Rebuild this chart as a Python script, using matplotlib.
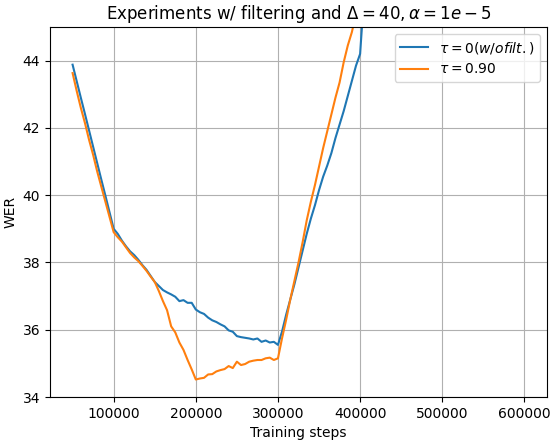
import matplotlib
matplotlib.use("Agg")
import matplotlib.pyplot as plt

steps_k = list(range(50, 415, 5))
steps = [s * 1000 for s in steps_k]

wer_nofilt = [
    43.88, 43.39, 42.90, 42.42, 41.93, 41.44, 40.95, 40.46, 39.98, 39.49,  # 50-95
    39.00, 38.85, 38.65, 38.48, 38.33, 38.22, 38.08, 37.92, 37.78, 37.60,  # 100-145
    37.42, 37.30, 37.18, 37.11, 37.05, 36.98, 36.85, 36.88, 36.80, 36.80,  # 150-195
    36.60, 36.52, 36.47, 36.36, 36.28, 36.23, 36.16, 36.10, 35.98, 35.94,  # 200-245
    35.81, 35.78, 35.76, 35.74, 35.71, 35.74, 35.64, 35.68, 35.62, 35.64,  # 250-295
    35.55, 35.95, 36.45, 36.90, 37.35, 37.85, 38.35, 38.85, 39.30, 39.70,  # 300-345
    40.15, 40.55, 40.88, 41.25, 41.70, 42.10, 42.50, 42.95, 43.40, 43.85,  # 350-395
    44.20, 46.00, 47.50,                                                   # 400-410
]

wer_tau090 = [
    43.63, 43.10, 42.60, 42.15, 41.65, 41.20, 40.70, 40.25, 39.80, 39.35,  # 50-95
    38.90, 38.75, 38.62, 38.45, 38.28, 38.15, 38.04, 37.90, 37.75, 37.58,  # 100-145
    37.42, 37.15, 36.85, 36.58, 36.10, 35.92, 35.62, 35.40, 35.10, 34.82,  # 150-195
    34.52, 34.55, 34.57, 34.67, 34.68, 34.76, 34.80, 34.83, 34.92, 34.86,  # 200-245
    35.05, 34.95, 34.98, 35.05, 35.08, 35.10, 35.10, 35.15, 35.17, 35.10,  # 250-295
    35.15, 35.75, 36.30, 36.90, 37.45, 38.00, 38.60, 39.25, 39.80, 40.30,  # 300-345
    40.85, 41.40, 41.90, 42.40, 42.90, 43.35, 43.95, 44.45, 44.85, 45.40,  # 350-395
    46.00, 46.60, 47.20,                                                   # 400-410
]

fig = plt.figure(figsize=(5.53, 4.44), dpi=100)
ax = fig.add_subplot(111)
fig.subplots_adjust(left=50/553, right=547/553, bottom=1-397/444, top=1-27/444)

ax.plot(steps, wer_nofilt, color="#1f77b4", label=r"$\tau = 0 (w/o filt.)$")
ax.plot(steps, wer_tau090, color="#ff7f0e", label=r"$\tau = 0.90$")

ax.set_xlim(22500, 627500)
ax.set_ylim(34, 45)
ax.set_yticks([34, 36, 38, 40, 42, 44])
ax.set_xticks([100000, 200000, 300000, 400000, 500000, 600000])
ax.grid(True)
ax.set_xlabel("Training steps")
ax.set_ylabel("WER")
ax.set_title(r"Experiments w/ filtering and $\Delta = 40, \alpha = 1e-5$")
ax.legend(loc="upper right")

fig.savefig("out.png", dpi=100)
